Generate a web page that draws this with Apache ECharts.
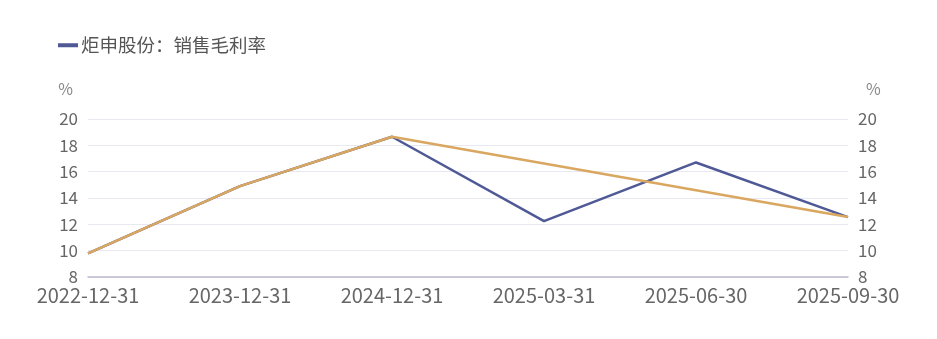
<!DOCTYPE html>
<html><head><meta charset="utf-8">
<script src="https://cdn.jsdelivr.net/npm/echarts@6/dist/echarts.min.js"></script>
<style>html,body{margin:0;padding:0;background:#fff}#c{width:937px;height:339px}</style>
</head><body><div id="c"></div>
<script>
const categories = ['2022-12-31','2023-12-31','2024-12-31','2025-03-31','2025-06-30','2025-09-30'];
const grossMargin = [9.8, 14.9, 18.65, 12.25, 16.7, 12.55];
const annualTrend = [9.8, 14.9, 18.65, null, null, 12.55];
const seriesName = '炬申股份：销售毛利率';
const yTicks = {min: 8, max: 20, interval: 2};

const font = '"Noto Sans CJK SC", "Noto Sans", sans-serif';
const chart = echarts.init(document.getElementById('c'), null, {renderer: 'canvas'});
const yAxisBase = {
  type: 'value', min: yTicks.min, max: yTicks.max, interval: yTicks.interval,
  name: '%', nameGap: 22,
  axisLine: {show: false}, axisTick: {show: false},
  axisLabel: {color: '#666', fontSize: 17, fontFamily: font, margin: 10},
  splitLine: {lineStyle: {color: '#e8e8f2', width: 1}}
};
chart.setOption({
  animation: false,
  textStyle: {fontFamily: font},
  legend: {
    data: [seriesName], left: 53, top: 31, itemWidth: 20, itemHeight: 4,
    icon: 'rect', itemGap: 10, itemStyle: {borderWidth: 0},
    textStyle: {color: '#555', fontSize: 18.5, fontFamily: font, padding: [0, 0, 0, -2]}
  },
  grid: {left: 88, right: 89, top: 119, bottom: 62},
  xAxis: {
    type: 'category', data: categories, boundaryGap: false,
    axisLine: {lineStyle: {color: '#b9b9cc', width: 1.5}},
    axisTick: {show: false},
    axisLabel: {color: '#666', fontSize: 20, fontFamily: font, margin: 8, interval: 0}
  },
  yAxis: [
    Object.assign({}, yAxisBase, {position: 'left',
      nameTextStyle: {color: '#888', fontSize: 16, align: 'right', padding: [0, 15, 0, 0], fontFamily: font}}),
    Object.assign({}, yAxisBase, {position: 'right',
      nameTextStyle: {color: '#888', fontSize: 16, align: 'left', padding: [0, 0, 0, 18], fontFamily: font}})
  ],
  series: [
    {name: seriesName, type: 'line', data: grossMargin, yAxisIndex: 0,
     symbol: 'none', lineStyle: {color: '#4f5995', width: 2.5}, itemStyle: {color: '#4f5995'}},
    {name: 'trend', type: 'line', data: annualTrend, yAxisIndex: 0, connectNulls: true,
     symbol: 'none', lineStyle: {color: '#d9a760', width: 2.5}, itemStyle: {color: '#d9a760'}}
  ]
});
</script></body></html>
